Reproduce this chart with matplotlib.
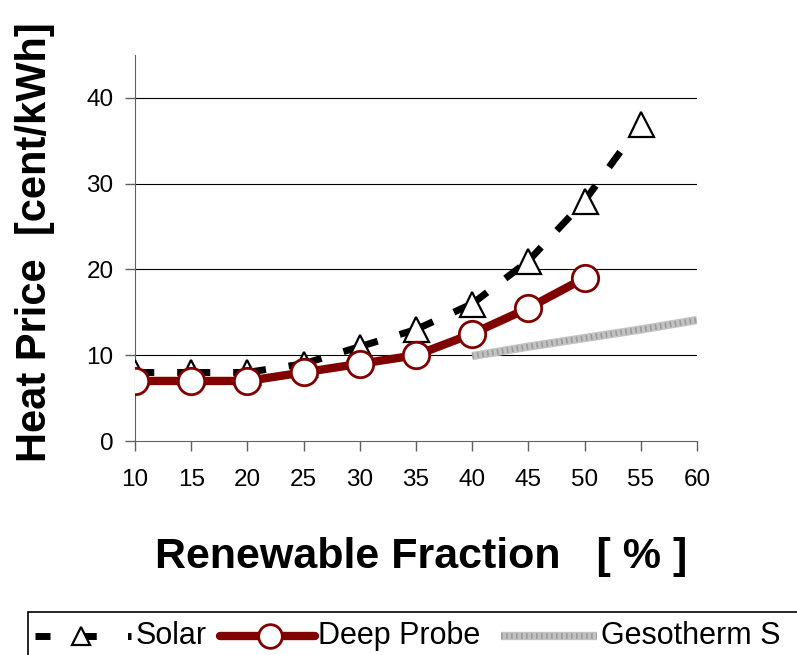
import matplotlib
matplotlib.use("Agg")
import matplotlib.pyplot as plt
from matplotlib.lines import Line2D
from matplotlib.patches import Rectangle

plt.rcParams['font.family'] = ['Liberation Sans', 'DejaVu Sans']

x_solar = [10, 15, 20, 25, 30, 35, 40, 45, 50, 55]
solar = [8, 8, 8, 9, 11, 13, 16, 21, 28, 37]
x_deep = [10, 15, 20, 25, 30, 35, 40, 45, 50]
deep = [7, 7, 7, 8, 9, 10, 12.5, 15.5, 19]
x_geo = [40, 45, 50, 55, 60]
geo = [9.9, 11, 12, 13, 14.1]
xticks = [10, 15, 20, 25, 30, 35, 40, 45, 50, 55, 60]
yticks = [0, 10, 20, 30, 40]
labels = ['Solar', 'Deep Probe', 'Gesotherm S']

W, H = 797, 655
def fx(px):
    return px / W
def fy(py):
    return 1 - py / H

DEEP = '#800000'
GEO = '#c2c2c2'

fig = plt.figure(figsize=(W / 100, H / 100), dpi=100)
ax = fig.add_axes([fx(135), fy(441), (697 - 135) / W, (441 - 55) / H])

for y in yticks[1:]:
    ax.axhline(y, color='#000000', lw=0.8, zorder=0)

# geothermal
ax.plot(x_geo, geo, color=GEO, lw=6, solid_capstyle='butt', zorder=2)
ax.plot(x_geo, geo, color='#9a9a9a', lw=4, ls=(0, (0.3, 0.6)), zorder=2)

# solar: dash pattern restarts at every segment (like the original)
for i in range(len(x_solar) - 1):
    ax.plot(x_solar[i:i + 2], solar[i:i + 2], color='black', lw=5,
            ls=(0, (2.7, 3.3)), dash_capstyle='butt', zorder=3)
ax.plot(x_solar, solar, ls='none', marker='^', ms=18,
        mfc='white', mec='black', mew=1.6, zorder=3.5)

# deep probe
ax.plot(x_deep, deep, color=DEEP, lw=6, marker='o', ms=19,
        mfc='white', mec=DEEP, mew=2, zorder=4)

ax.set_xlim(10, 60)
ax.set_ylim(0, 45)
ax.set_xticks(xticks)
ax.set_yticks(yticks)
ax.tick_params(labelsize=17.5, length=7, width=1, direction='out', color='#606060')
ax.tick_params(axis='x', pad=13.5)
ax.tick_params(axis='y', pad=8.5)
for s in ['top', 'right']:
    ax.spines[s].set_visible(False)
ax.spines['left'].set_color('#606060')
ax.spines['bottom'].set_color('#606060')

fig.text(fx(421), fy(557), 'Renewable Fraction   [ % ]', fontsize=31,
         fontweight='bold', ha='center', va='center')
fig.text(fx(35), fy(242), 'Heat Price  [cent/kWh]', fontsize=30,
         fontweight='bold', ha='center', va='center', rotation=90)

# legend drawn by hand (handles of different lengths, clipped by the figure edge)
fig.add_artist(Rectangle((fx(28), fy(680)), fx(800) - fx(28), fy(612) - fy(680),
                         transform=fig.transFigure, fill=False, ec='black', lw=1.2))
ly = fy(636)
fig.add_artist(Line2D([fx(35), fx(131)], [ly, ly], color='black', lw=5,
                      ls=(0, (2.16, 4.5)), dash_capstyle='butt',
                      transform=fig.transFigure))
fig.add_artist(Line2D([fx(81)], [ly], ls='none', marker='^', ms=13, mfc='white',
                      mec='black', mew=1.6, transform=fig.transFigure))
fig.text(fx(136), ly, labels[0], fontsize=22, va='center', ha='left')
fig.add_artist(Line2D([fx(220), fx(315)], [ly, ly], color=DEEP, lw=6,
                      solid_capstyle='round', transform=fig.transFigure))
fig.add_artist(Line2D([fx(270)], [ly], ls='none', marker='o', ms=17, mfc='white',
                      mec=DEEP, mew=2, transform=fig.transFigure))
fig.text(fx(318), ly, labels[1], fontsize=22, va='center', ha='left')
fig.add_artist(Line2D([fx(501), fx(597)], [ly, ly], color=GEO, lw=6,
                      solid_capstyle='butt', transform=fig.transFigure))
fig.add_artist(Line2D([fx(501), fx(597)], [ly, ly], color='#9a9a9a', lw=4,
                      ls=(0, (0.3, 0.6)), transform=fig.transFigure))
fig.text(fx(601), ly, labels[2], fontsize=22, va='center', ha='left')

fig.savefig('out.png', dpi=100)
